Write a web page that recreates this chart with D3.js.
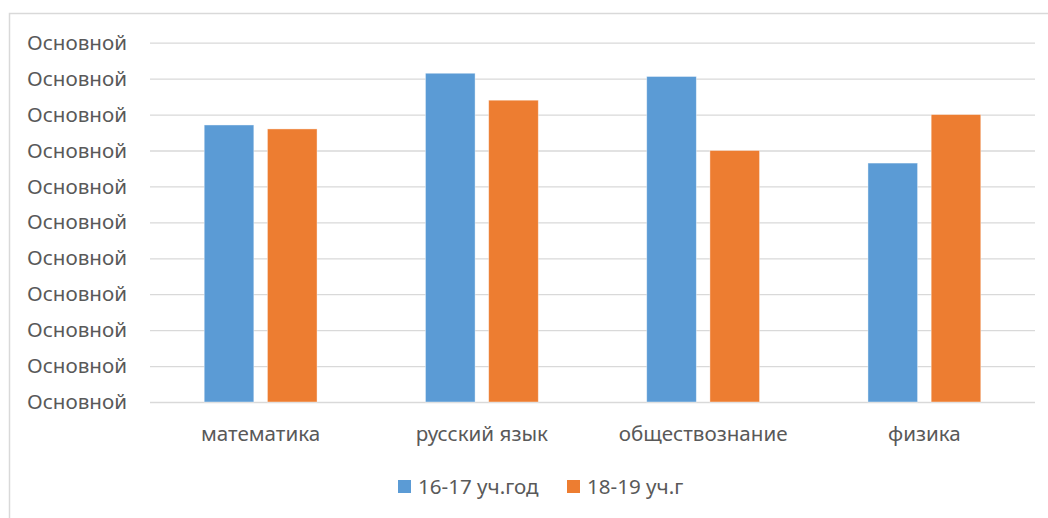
<!DOCTYPE html>
<html><head><meta charset="utf-8">
<script src="https://cdn.jsdelivr.net/npm/d3@7"></script>
<style>body{margin:0;background:#fff}svg{display:block}</style>
</head><body>
<svg id="c" width="1048" height="518"></svg>
<script>
const categories = ["математика", "русский язык", "обществознание", "физика"];
const seriesNames = ["16-17 уч.год", "18-19 уч.г"];
const series1 = [7.71, 9.15, 9.06, 6.65];
const series2 = [7.60, 8.40, 7.00, 8.00];
const yTicks = [0,1,2,3,4,5,6,7,8,9,10];
const yTickLabel = "Основной";
const colors = ["#5B9BD5", "#ED7D31"];

(function(){
const svg = d3.select("#c");
const font = "'Noto Sans', 'Open Sans', sans-serif";
const fs = "20.6px";
svg.append("rect").attr("x",9.5).attr("y",13.5).attr("width",1060).attr("height",520)
  .attr("fill","#fff").attr("stroke","#D9D9D9").attr("stroke-width",1.5);

const pl=150, pr=1035, pt=42.7, pb=402;
const y = d3.scaleLinear().domain([0,10]).range([pb, pt]);
const x0 = d3.scaleBand().domain(categories).range([pl,pr]).paddingInner(0.49).paddingOuter(0.245);
const x1 = d3.scaleBand().domain([0,1]).range([0,x0.bandwidth()]).paddingInner(0.215);

const yAxis = d3.axisLeft(y).tickValues(yTicks).tickSize(-(pr-pl)).tickFormat(()=>yTickLabel).tickPadding(23);
const gy = svg.append("g").attr("transform",`translate(${pl},0)`).call(yAxis);
gy.select(".domain").remove();
gy.selectAll("line").attr("stroke","#D9D9D9").attr("stroke-width",1.3);
gy.selectAll("text").attr("fill","#595959").style("font-family",font).style("font-size",fs);

const data = categories.map((c,i)=>({c, v:[series1[i], series2[i]]}));
const g = svg.append("g");
data.forEach(d=>{
  d.v.forEach((v,j)=>{
    g.append("rect").attr("x",x0(d.c)+x1(j)).attr("y",y(v)).attr("width",x1.bandwidth()).attr("height",y(0)-y(v))
      .attr("fill",colors[j]).attr("stroke","#fff").attr("stroke-opacity",0.5).attr("stroke-width",0.8);
  });
});

const xAxis = d3.axisBottom(x0).tickSize(0).tickPadding(24);
const gx = svg.append("g").attr("transform",`translate(0,${pb})`).call(xAxis);
gx.select(".domain").remove();
gx.selectAll("text").attr("fill","#595959").style("font-family",font).style("font-size",fs);

const legend = svg.append("g");
const lx = [398, 567];
seriesNames.forEach((n,i)=>{
  legend.append("rect").attr("x",lx[i]).attr("y",480).attr("width",13).attr("height",13).attr("fill",colors[i]);
  legend.append("text").attr("x",lx[i]+20).attr("y",486.5).attr("dy","0.35em").attr("fill","#595959")
    .style("font-family",font).style("font-size",fs).text(n);
});
})();
</script>
</body></html>
